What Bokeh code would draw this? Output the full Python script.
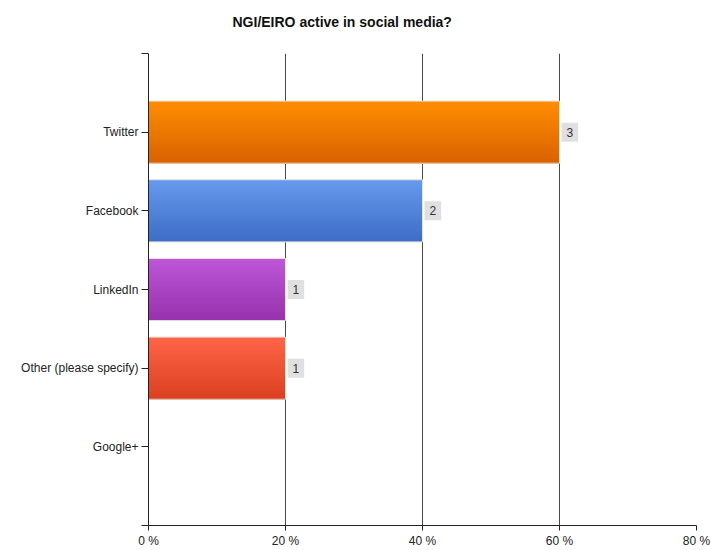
from bokeh.plotting import figure
from bokeh.models import Range1d, FixedTicker, ColumnDataSource, Title
from bokeh.core.properties import value
from bokeh.embed import file_html
from bokeh.resources import INLINE

# ---- data ----
categories = ["Twitter", "Facebook", "LinkedIn", "Other (please specify)", "Google+"]
percents = [60, 40, 20, 20, 0]
counts = [3, 2, 1, 1, 0]
top_colors = ["#FF8D00", "#669AEE", "#BD57D8", "#FF6548"]
bottom_colors = ["#D96200", "#3D6DC5", "#9731AC", "#DA3F20"]
x_ticks = [0, 20, 40, 60, 80]
x_tick_labels = ["0 %", "20 %", "40 %", "60 %", "80 %"]
title_text = "NGI/EIRO active in social media?"

FONT = "Liberation Sans"
n = len(categories)

p = figure(width=711, height=550, output_backend="svg", toolbar_location=None, title=None,
           x_range=Range1d(0, 80), y_range=Range1d(n + 1, 0),
           min_border_left=148, min_border_right=15, min_border_top=53, min_border_bottom=24)
p.outline_line_color = None
p.background_fill_color = "white"
p.border_fill_color = "white"

# white spacer next to the frame (first added = closest), then the real title above it
p.add_layout(Title(text=".", text_font=FONT, text_font_size="12px", text_color="white", standoff=12), "above")
p.add_layout(Title(text=title_text, text_font=FONT, text_font_size="14px", text_font_style="bold",
                   text_color="#111111", align="left", offset=84, standoff=2), "above")

# grids
p.ygrid.visible = False
p.xgrid.ticker = FixedTicker(ticks=x_ticks[1:])
p.xgrid.grid_line_color = "#4a4a4a"
p.xgrid.grid_line_width = 1

# axes
p.xaxis.ticker = FixedTicker(ticks=x_ticks)
p.xaxis.major_label_overrides = {t: l for t, l in zip(x_ticks, x_tick_labels)}
p.yaxis.ticker = FixedTicker(ticks=list(range(0, n + 2)))
ylab = {0: "", n + 1: ""}
for i, c in enumerate(categories):
    ylab[i + 1] = c
p.yaxis.major_label_overrides = ylab
for ax in (p.xaxis, p.yaxis):
    ax.axis_line_color = "#222222"
    ax.major_tick_line_color = "#222222"
    ax.major_tick_in = 0
    ax.minor_tick_line_color = None
    ax.major_label_text_font = FONT
    ax.major_label_text_font_size = "12px"
    ax.major_label_text_color = "#222222"
p.xaxis.major_tick_out = 5
p.yaxis.major_tick_out = 7
p.xaxis.major_label_standoff = 3
p.yaxis.major_label_standoff = 3


def hex2rgb(h):
    h = h.lstrip("#")
    return [int(h[i:i + 2], 16) for i in (0, 2, 4)]


def rgb2hex(c):
    return "#%02x%02x%02x" % tuple(int(round(v)) for v in c)


# gradient bars: each slice reaches to the bar bottom, drawn top to bottom (no seams)
bar_h = 0.79
N = 30
q_top, q_bot, q_right, q_col = [], [], [], []
ob_y, ob_r = [], []
for i, v in enumerate(percents):
    if v <= 0:
        continue
    pos = i + 1
    c0 = hex2rgb(top_colors[i])
    c1 = hex2rgb(bottom_colors[i])
    for k in range(N):
        t = (k + 0.5) / N
        q_top.append(pos - bar_h / 2 + k * bar_h / N)
        q_bot.append(pos + bar_h / 2)
        q_right.append(v)
        q_col.append(rgb2hex([a + (b - a) * t for a, b in zip(c0, c1)]))
    ob_y.append(pos)
    ob_r.append(v)

p.quad(left=0, right=q_right, top=q_top, bottom=q_bot, fill_color=q_col, line_color=None)
p.hbar(y=ob_y, left=0, right=ob_r, height=bar_h, fill_color=None, line_color="#e8e2dc", line_width=1)

# count labels
lab_x, lab_y, lab_t = [], [], []
for i, (v, c) in enumerate(zip(percents, counts)):
    if c <= 0:
        continue
    lab_x.append(v)
    lab_y.append(i + 1)
    lab_t.append(str(c))
src = ColumnDataSource(dict(x=lab_x, y=lab_y, t=lab_t))
p.text(x="x", y="y", text="t", source=src, x_offset=2, text_align="left", text_baseline="middle",
       text_font=value(FONT), text_font_size="12px", text_color="#333333",
       background_fill_color="#e0e0e0", padding=dict(left=5, right=5, top=5, bottom=5))

open("out.html", "w").write(file_html(p, INLINE))
